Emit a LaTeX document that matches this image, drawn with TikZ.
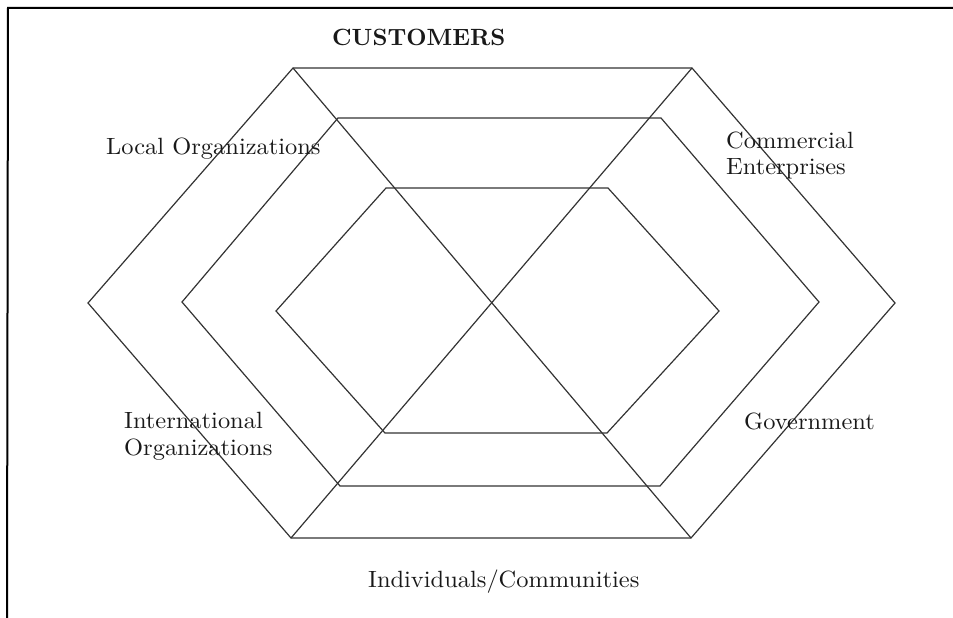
\documentclass[tikz,border=0pt]{standalone}
\usepackage{fontspec}
\newfontfamily\lblfont{lmroman10-regular.otf}[FakeStretch=1.04]
\newfontfamily\ttlfont{lmroman10-bold.otf}
\begin{document}
\begin{tikzpicture}[x=1pt,y=-1pt,
  hexline/.style={draw=black!80, line width=1.2pt, line join=miter},
  frameline/.style={draw=black, line width=2pt},
  lbl/.style={anchor=base west, inner sep=0pt, text=black!90, font=\lblfont\fontsize{23.5}{28}\selectfont},
  ttl/.style={anchor=base west, inner sep=0pt, text=black!90, font=\ttlfont\fontsize{23.5}{28}\selectfont}]
\useasboundingbox (0,0) rectangle (953,618);
% frame
\coordinate (f0) at (7,618);
\coordinate (f1) at (8,8);
\coordinate (f2) at (953,8);
\draw[frameline] (f0) -- (f1) -- (f2);
% outer hexagon
\coordinate (A1) at (293,68);
\coordinate (A2) at (692,68);
\coordinate (A3) at (895,303);
\coordinate (A4) at (691,538);
\coordinate (A5) at (291,538);
\coordinate (A6) at (88,303);
% middle hexagon
\coordinate (B1) at (338,118);
\coordinate (B2) at (661,118);
\coordinate (B3) at (819,302);
\coordinate (B4) at (660,486);
\coordinate (B5) at (340,486);
\coordinate (B6) at (182,302);
% inner hexagon
\coordinate (C1) at (386,188);
\coordinate (C2) at (608,188);
\coordinate (C3) at (719,311);
\coordinate (C4) at (607,433);
\coordinate (C5) at (385,433);
\coordinate (C6) at (276,311);
\draw[hexline] (A1) -- (A2) -- (A3) -- (A4) -- (A5) -- (A6) -- cycle;
\draw[hexline] (B1) -- (B2) -- (B3) -- (B4) -- (B5) -- (B6) -- cycle;
\draw[hexline] (C1) -- (C2) -- (C3) -- (C4) -- (C5) -- (C6) -- cycle;
\draw[hexline] (A1) -- (A4);
\draw[hexline] (A2) -- (A5);
% labels
\node[ttl] (cust) at (332,46) {CUSTOMERS};
\node[lbl] (local) at (106,154) {Local Organizations};
\node[lbl] (comm1) at (726,148) {Commercial};
\node[lbl] (comm2) at (726,174) {Enterprises};
\node[lbl] (intl1) at (124,428) {International};
\node[lbl] (intl2) at (124,455) {Organizations};
\node[lbl] (gov) at (744,429) {Government};
\node[lbl] (ind) at (368,587) {Individuals/Communities};
\end{tikzpicture}
\end{document}
